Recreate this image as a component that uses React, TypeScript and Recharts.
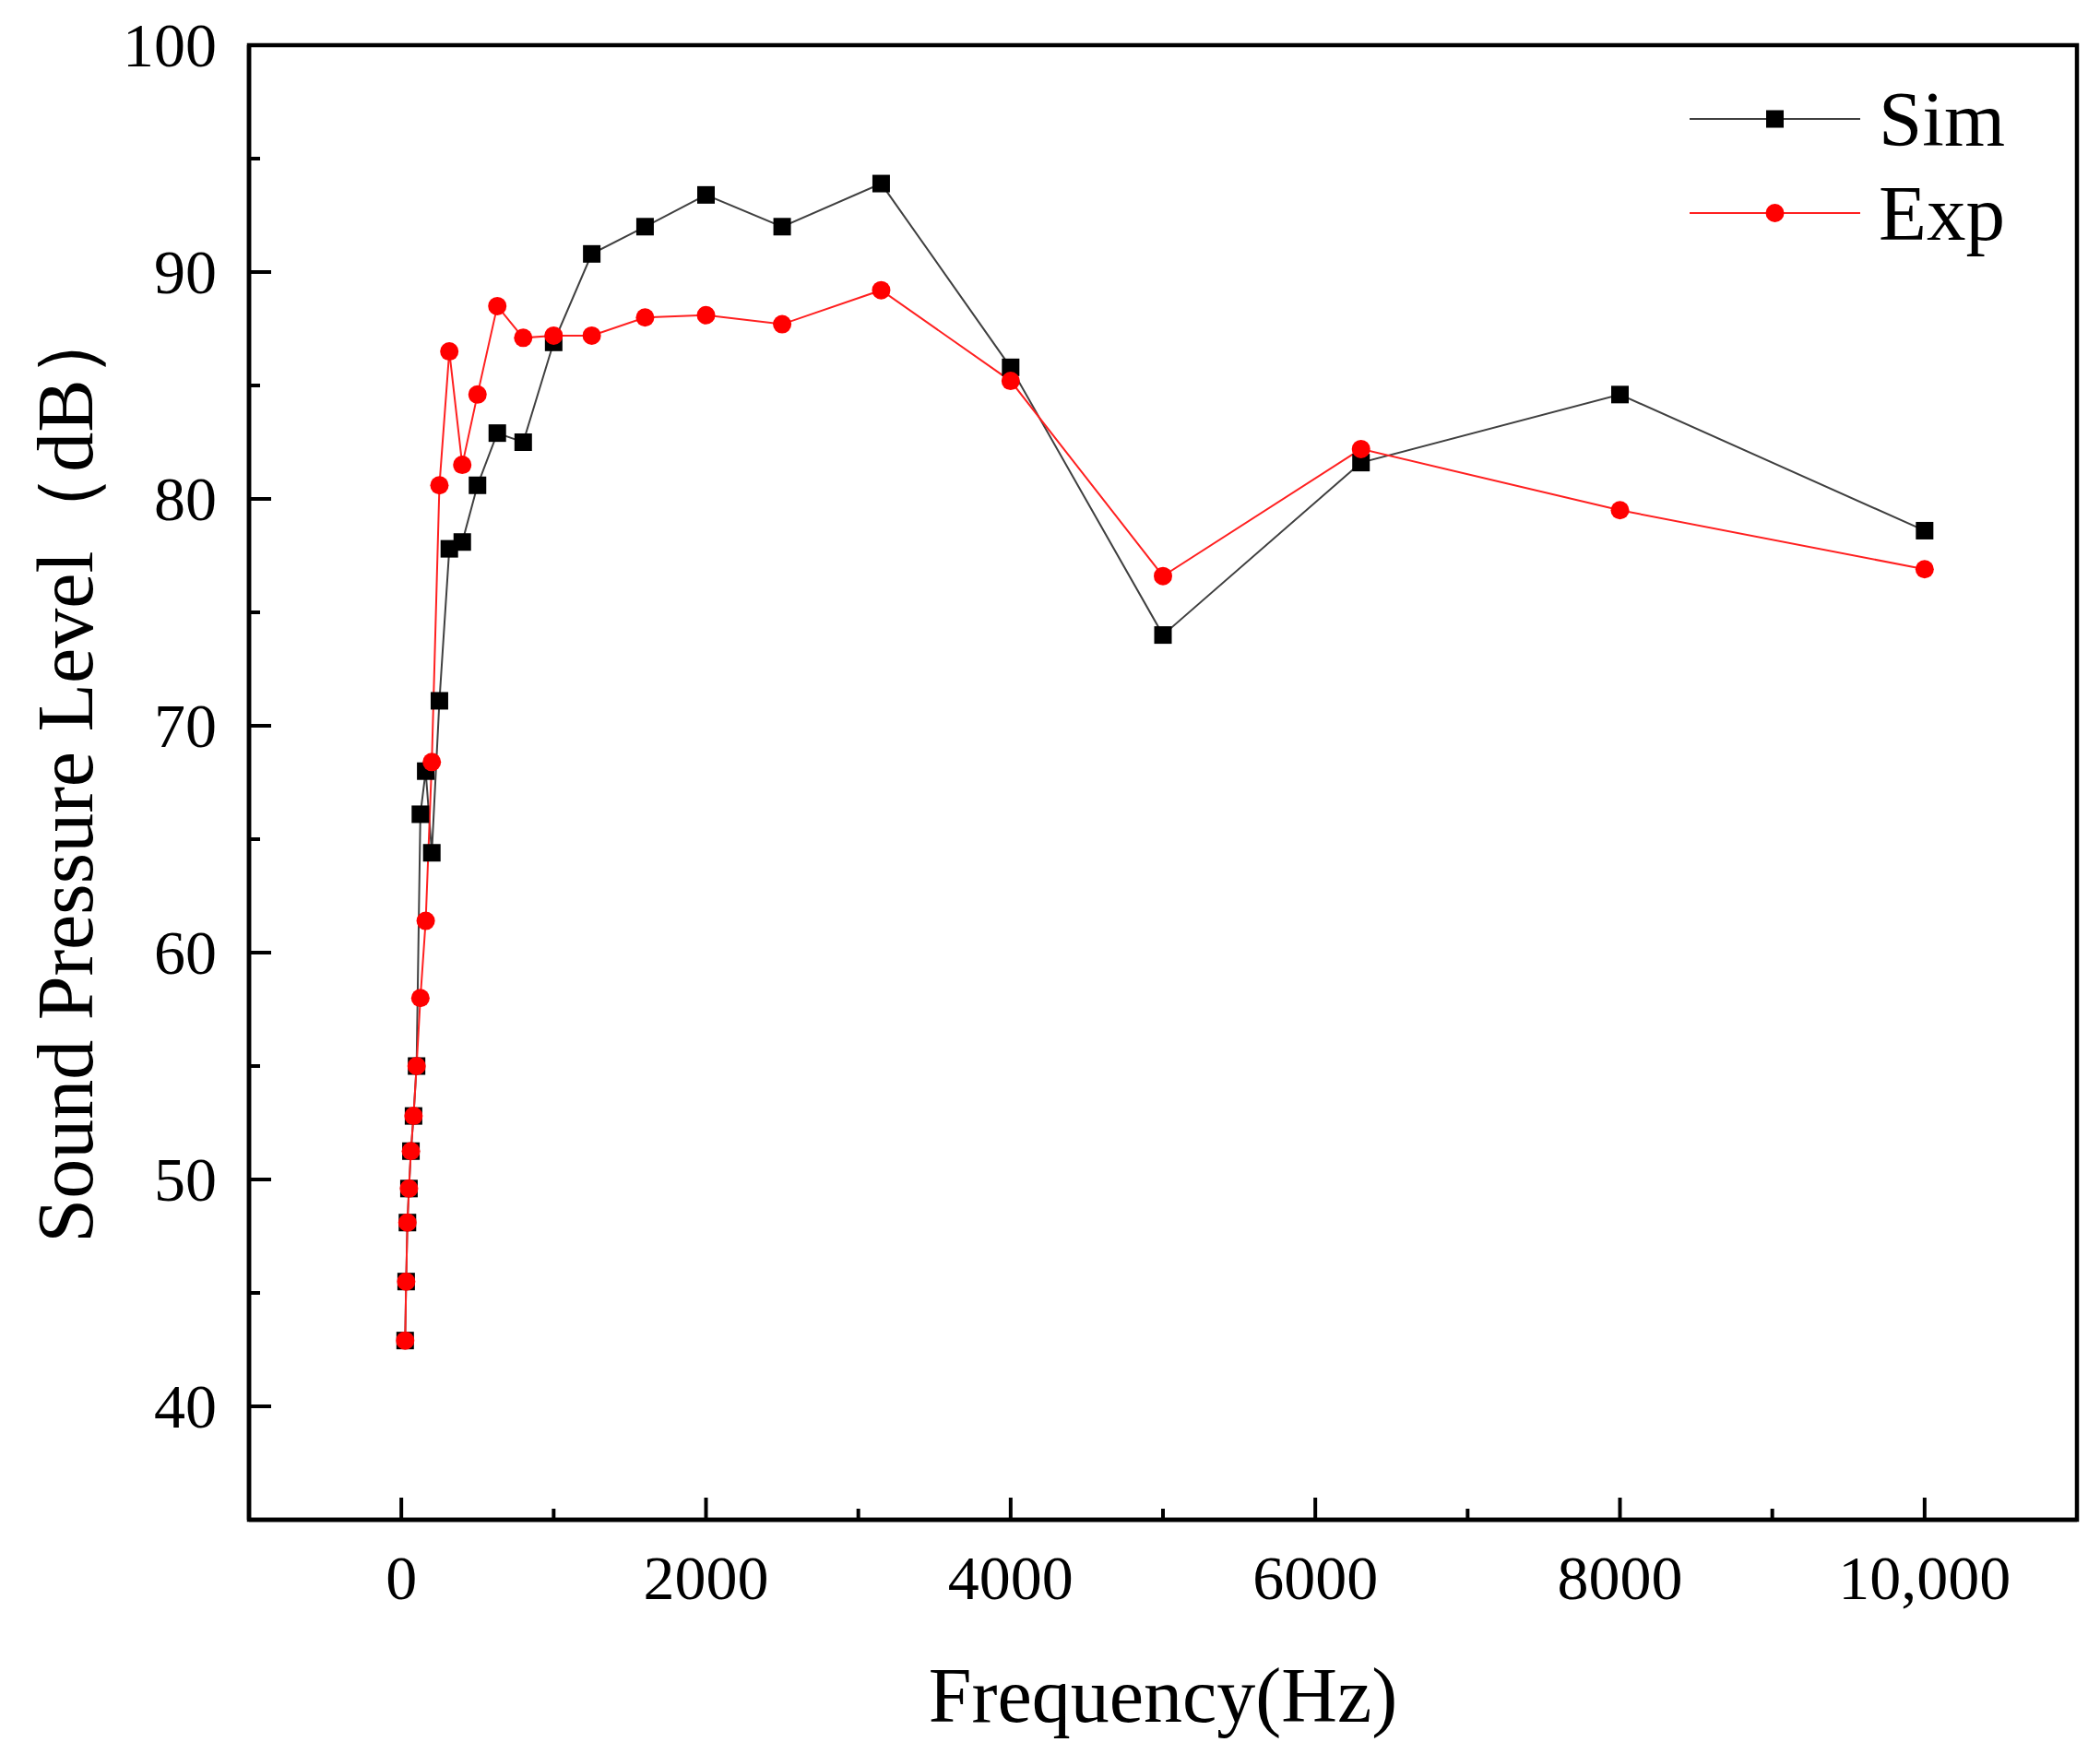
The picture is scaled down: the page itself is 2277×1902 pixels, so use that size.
import { LineChart, Line, XAxis, YAxis, ReferenceArea, Legend, Label } from "recharts";

// 1/3-octave band centre frequencies (Hz)
const freqs = [
  25, 31.5, 40, 50, 63, 80, 100, 125, 160, 200, 250, 315, 400, 500, 630, 800,
  1000, 1250, 1600, 2000, 2500, 3150, 4000, 5000, 6300, 8000, 10000,
];

// sound pressure level (dB)
const simLevels = [
  42.9, 45.5, 48.1, 49.6, 51.25, 52.8, 55.0, 66.1, 68.0, 64.4, 71.1, 77.8, 78.1, 80.6, 82.9, 82.5,
  86.9, 90.8, 92.0, 93.4, 92.0, 93.9, 85.8, 74.0, 81.6, 84.6, 78.6,
];
const expLevels = [
  42.9, 45.5, 48.1, 49.6, 51.25, 52.8, 55.0, 58.0, 61.4, 68.4, 80.6, 86.5, 81.5, 84.6, 88.5, 87.1,
  87.2, 87.2, 88.0, 88.1, 87.7, 89.2, 85.2, 76.6, 82.2, 79.5, 76.9,
];

const xTicks = [0, 1000, 2000, 3000, 4000, 5000, 6000, 7000, 8000, 9000, 10000];
const yTicks = [40, 45, 50, 55, 60, 65, 70, 75, 80, 85, 90, 95, 100];

const data = freqs.map((f, i) => ({ f, sim: simLevels[i], exp: expLevels[i] }));

const FONT = '"Liberation Serif", "Times New Roman", serif';
const TICK_FS = 68;
const X_GAP = 40;
const Y_GAP = 35;
const MAJOR = 24;
const MINOR = 12;

const fmtX = (v: number) => (v >= 10000 ? v.toLocaleString("en-US") : String(v));

const XTick = ({ x, y, payload }: any) => {
  const v = payload.value;
  const major = v % 2000 === 0;
  const ay = y - X_GAP;
  return (
    <g>
      <line x1={x} x2={x} y1={ay} y2={ay - (major ? MAJOR : MINOR)} stroke="#000" strokeWidth={4} />
      {major && (
        <text x={x} y={y} dy="0.68em" textAnchor="middle" fontFamily={FONT} fontSize={TICK_FS} fill="#000">
          {fmtX(v)}
        </text>
      )}
    </g>
  );
};

const YTick = ({ x, y, payload }: any) => {
  const v = payload.value;
  const major = v % 10 === 0;
  const ax = x + Y_GAP;
  return (
    <g>
      <line x1={ax} x2={ax + (major ? MAJOR : MINOR)} y1={y} y2={y} stroke="#000" strokeWidth={4} />
      {major && (
        <text x={x} y={y} dy="0.34em" textAnchor="end" fontFamily={FONT} fontSize={TICK_FS} fill="#000">
          {v}
        </text>
      )}
    </g>
  );
};

const renderSquare = (props: any) => {
  const { cx, cy, index } = props;
  return <rect key={`sq-${index}`} x={cx - 9.5} y={cy - 9.5} width={19} height={19} fill="#000" />;
};

const XTitle = ({ viewBox }: any) => (
  <text
    x={viewBox.x + viewBox.width / 2}
    y={viewBox.y + viewBox.height - 35}
    textAnchor="middle"
    fontFamily={FONT}
    fontSize={84}
    fill="#000"
  >
    Frequency(Hz)
  </text>
);

const YTitle = ({ viewBox }: any) => {
  const cx = 100;
  const cy = viewBox.y + viewBox.height / 2 - 12;
  return (
    <text
      x={cx}
      y={cy}
      transform={`rotate(-90 ${cx} ${cy})`}
      textAnchor="middle"
      fontFamily={FONT}
      fontSize={86}
      fill="#000"
    >
      Sound Pressure Level（dB）
    </text>
  );
};

const legendItems = [
  { name: "Sim", color: "#404040", shape: "square" },
  { name: "Exp", color: "#ff2020", shape: "circle" },
];

const renderLegend = () => (
  <div style={{ fontFamily: FONT, fontSize: 85, color: "#000" }}>
    {legendItems.map((s) => (
      <div key={s.name} style={{ display: "flex", alignItems: "center", height: 102, lineHeight: "102px" }}>
        <svg width={185} height={102} style={{ display: "block" }}>
          <line x1={0} x2={185} y1={51} y2={51} stroke={s.color} strokeWidth={2} />
          {s.shape === "square" ? (
            <rect x={83} y={41.5} width={19} height={19} fill="#000" />
          ) : (
            <circle cx={92.5} cy={51} r={10} fill="#ff0000" />
          )}
        </svg>
        <span style={{ marginLeft: 20 }}>{s.name}</span>
      </div>
    ))}
  </div>
);

export default function App() {
  return (
    <div style={{ position: "absolute", left: 0, top: 0, width: 2277, height: 1902, background: "#fff" }}>
      <LineChart width={2277} height={1902} data={data} margin={{ top: 49, right: 25, bottom: 0, left: 0 }}>
        <ReferenceArea x1={-1000} x2={11000} y1={35} y2={100} fill="none" stroke="#000" strokeWidth={4.5} />
        <XAxis
          dataKey="f"
          type="number"
          domain={[-1000, 11000]}
          ticks={xTicks}
          allowDataOverflow
          height={254}
          tickSize={0}
          tickMargin={X_GAP}
          tick={<XTick />}
          axisLine={{ stroke: "#000", strokeWidth: 4.5 }}
          tickLine={false}
          interval={0}
        >
          <Label content={XTitle} />
        </XAxis>
        <YAxis
          type="number"
          domain={[35, 100]}
          ticks={yTicks}
          allowDataOverflow
          width={270}
          tickSize={0}
          tickMargin={Y_GAP}
          tick={<YTick />}
          axisLine={{ stroke: "#000", strokeWidth: 4.5 }}
          tickLine={false}
          interval={0}
        >
          <Label content={YTitle} />
        </YAxis>
        <Legend
          content={renderLegend}
          layout="vertical"
          align="center"
          verticalAlign="middle"
          wrapperStyle={{ top: 78, left: 1832, width: 420 }}
        />
        <Line
          dataKey="sim"
          name="Sim"
          stroke="#404040"
          strokeWidth={2}
          dot={renderSquare}
          activeDot={false}
          isAnimationActive={false}
        />
        <Line
          dataKey="exp"
          name="Exp"
          stroke="#ff2020"
          strokeWidth={2}
          dot={{ r: 10, fill: "#ff0000", stroke: "none" }}
          activeDot={false}
          isAnimationActive={false}
        />
      </LineChart>
    </div>
  );
}
